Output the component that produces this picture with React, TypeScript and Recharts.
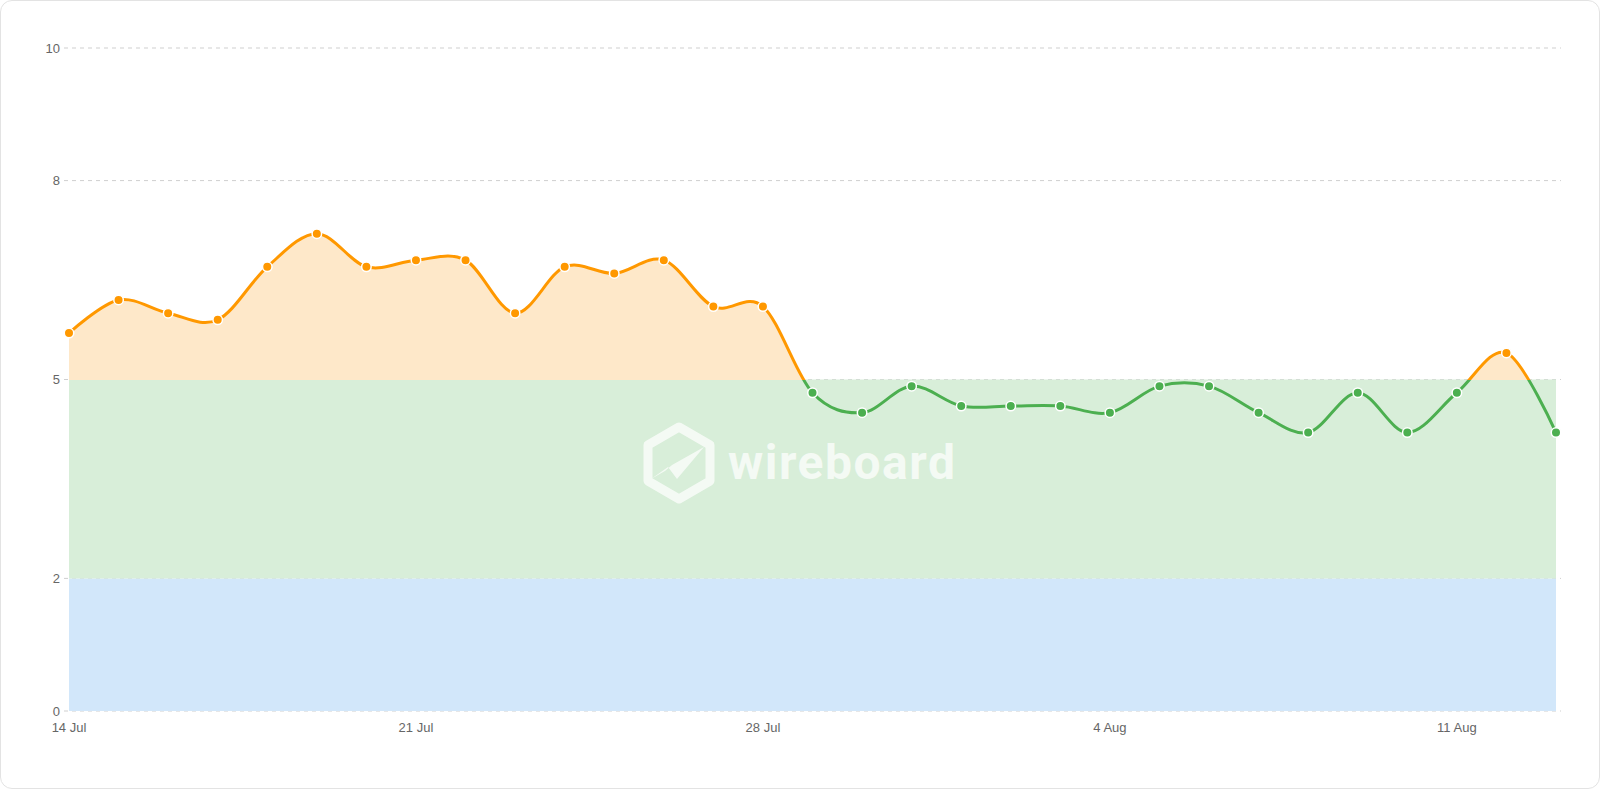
import React from 'react';
import { ComposedChart, Area, Line, XAxis, YAxis, CartesianGrid, ReferenceArea } from 'recharts';

// ---- data ----
const days = [
  '14 Jul', '15 Jul', '16 Jul', '17 Jul', '18 Jul', '19 Jul', '20 Jul', '21 Jul', '22 Jul', '23 Jul',
  '24 Jul', '25 Jul', '26 Jul', '27 Jul', '28 Jul', '29 Jul', '30 Jul', '31 Jul', '1 Aug', '2 Aug',
  '3 Aug', '4 Aug', '5 Aug', '6 Aug', '7 Aug', '8 Aug', '9 Aug', '10 Aug', '11 Aug', '12 Aug', '13 Aug',
];
const values = [
  5.7, 6.2, 6.0, 5.9, 6.7, 7.2, 6.7, 6.8, 6.8, 6.0, 6.7, 6.6, 6.8, 6.1, 6.1,
  4.8, 4.5, 4.9, 4.6, 4.6, 4.6, 4.5, 4.9, 4.9, 4.5, 4.2, 4.8, 4.2, 4.8, 5.4, 4.2,
];
const xTickLabels = ['14 Jul', '21 Jul', '28 Jul', '4 Aug', '11 Aug'];
const yTicks = [0, 2, 5, 8, 10];
const lowBand = [0, 2];
const midBand = [2, 5];
const threshold = 5;

// ---- styles ----
const ORANGE = '#FF9800';
const GREEN = '#4CAF50';
const ORANGE_FILL = '#FEE8C9';
const GREEN_FILL = '#D8EED9';
const BLUE_FILL = '#D2E7FA';
const FONT = '"Liberation Sans", Arial, sans-serif';

const data = values.map((v, i) => ({ idx: i, day: days[i], value: v }));
const xTicks = xTickLabels.map((l) => days.indexOf(l));

const maxV = Math.max(...values);
const minV = Math.min(...values);
const lineOffset = (maxV - threshold) / (maxV - minV);
const fillOffset = (maxV - threshold) / maxV;

// Cardinal (Catmull-Rom like) curve factory, tension 0
function cardinalPoint(that: any, x: number, y: number) {
  that._context.bezierCurveTo(
    that._x1 + that._k * (that._x2 - that._x0),
    that._y1 + that._k * (that._y2 - that._y0),
    that._x2 + that._k * (that._x1 - x),
    that._y2 + that._k * (that._y1 - y),
    that._x2,
    that._y2
  );
}
function CardinalCurve(this: any, context: any) {
  this._context = context;
  this._k = 1 / 6;
}
CardinalCurve.prototype = {
  areaStart() { this._line = 0; },
  areaEnd() { this._line = NaN; },
  lineStart() {
    this._x0 = this._x1 = this._x2 = this._y0 = this._y1 = this._y2 = NaN;
    this._point = 0;
  },
  lineEnd() {
    switch (this._point) {
      case 2: this._context.lineTo(this._x2, this._y2); break;
      case 3: cardinalPoint(this, this._x1, this._y1); break;
    }
    if (this._line || (this._line !== 0 && this._point === 1)) this._context.closePath();
    this._line = 1 - this._line;
  },
  point(x: number, y: number) {
    x = +x; y = +y;
    switch (this._point) {
      case 0: this._point = 1; this._line ? this._context.lineTo(x, y) : this._context.moveTo(x, y); break;
      case 1: this._point = 2; this._x1 = x; this._y1 = y; break;
      case 2: this._point = 3; cardinalPoint(this, x, y); break;
      default: cardinalPoint(this, x, y); break;
    }
    this._x0 = this._x1; this._x1 = this._x2; this._x2 = x;
    this._y0 = this._y1; this._y1 = this._y2; this._y2 = y;
  },
};
const cardinal: any = (context: any) => new (CardinalCurve as any)(context);

const renderDot = (props: any) => {
  const { cx, cy, payload, index } = props;
  if (cx == null || cy == null) return <g key={`d${index}`} />;
  return (
    <circle
      key={`d${index}`}
      cx={cx}
      cy={cy}
      r={4.75}
      fill={payload.value > threshold ? ORANGE : GREEN}
      stroke="#fff"
      strokeWidth={1.5}
    />
  );
};

const Watermark = () => (
  <svg
    width={340}
    height={90}
    style={{ position: 'absolute', left: 637, top: 418, pointerEvents: 'none' }}
  >
    <g opacity={0.72}>
      <polygon
        points="41,8 72,26 72,62 41,80 10,62 10,26"
        fill="none"
        stroke="#fff"
        strokeWidth={9}
        strokeLinejoin="round"
      />
      <polygon points="13,60 30,48 39,60 66,28 34,46 27,52" fill="#fff" />
      <text
        x={90}
        y={60}
        fill="#fff"
        fontSize={48}
        fontWeight={700}
        letterSpacing={1.5}
        fontFamily="Roboto, sans-serif"
      >
        wireboard
      </text>
    </g>
  </svg>
);

export default function App() {
  return (
    <div
      style={{
        position: 'relative',
        width: 1600,
        height: 789,
        boxSizing: 'border-box',
        border: '1px solid #e3e3e3',
        borderRadius: 12,
        background: '#fff',
        overflow: 'hidden',
      }}
    >
      <style>{'body{margin:0}'}</style>
      <div style={{ position: 'absolute', left: -1, top: -1 }}>
        <ComposedChart
          width={1600}
          height={789}
          data={data}
          margin={{ top: 48, right: 39, bottom: 48, left: 0 }}
        >
          <defs>
            <linearGradient id="lineGrad" x1="0" y1="0" x2="0" y2="1">
              <stop offset={lineOffset} stopColor={ORANGE} />
              <stop offset={lineOffset} stopColor={GREEN} />
            </linearGradient>
            <linearGradient id="fillGrad" x1="0" y1="0" x2="0" y2="1">
              <stop offset={fillOffset} stopColor={ORANGE_FILL} stopOpacity={1} />
              <stop offset={fillOffset} stopColor={ORANGE_FILL} stopOpacity={0} />
            </linearGradient>
          </defs>
          <CartesianGrid vertical={false} stroke="#cfcfcf" strokeDasharray="4 4" />
          <XAxis
            type="number"
            dataKey="idx"
            domain={[0, days.length - 1]}
            ticks={xTicks}
            interval={0}
            tickFormatter={(i: number) => days[i]}
            padding={{ left: 5, right: 5 }}
            axisLine={false}
            tickLine={false}
            tickSize={0}
            tickMargin={12}
            height={30}
            tick={{ fill: '#666', fontSize: 13, fontFamily: FONT }}
          />
          <YAxis
            type="number"
            domain={[0, 10]}
            ticks={yTicks}
            interval={0}
            axisLine={false}
            tickLine={false}
            tickSize={0}
            tickMargin={4}
            width={64}
            tick={{ fill: '#666', fontSize: 13, fontFamily: FONT }}
          />
          <ReferenceArea
            x1={0}
            x2={days.length - 1}
            y1={lowBand[0]}
            y2={lowBand[1]}
            fill={BLUE_FILL}
            fillOpacity={1}
            stroke="none"
          />
          <ReferenceArea
            x1={0}
            x2={days.length - 1}
            y1={midBand[0]}
            y2={midBand[1]}
            fill={GREEN_FILL}
            fillOpacity={1}
            stroke="none"
          />
          <Area
            dataKey="value"
            type={cardinal}
            stroke="none"
            fill="url(#fillGrad)"
            fillOpacity={1}
            baseValue={0}
            dot={false}
            activeDot={false}
            isAnimationActive={false}
          />
          <Line
            dataKey="value"
            type={cardinal}
            stroke="url(#lineGrad)"
            strokeWidth={3}
            dot={renderDot}
            activeDot={false}
            isAnimationActive={false}
          />
        </ComposedChart>
      </div>
      <Watermark />
    </div>
  );
}
